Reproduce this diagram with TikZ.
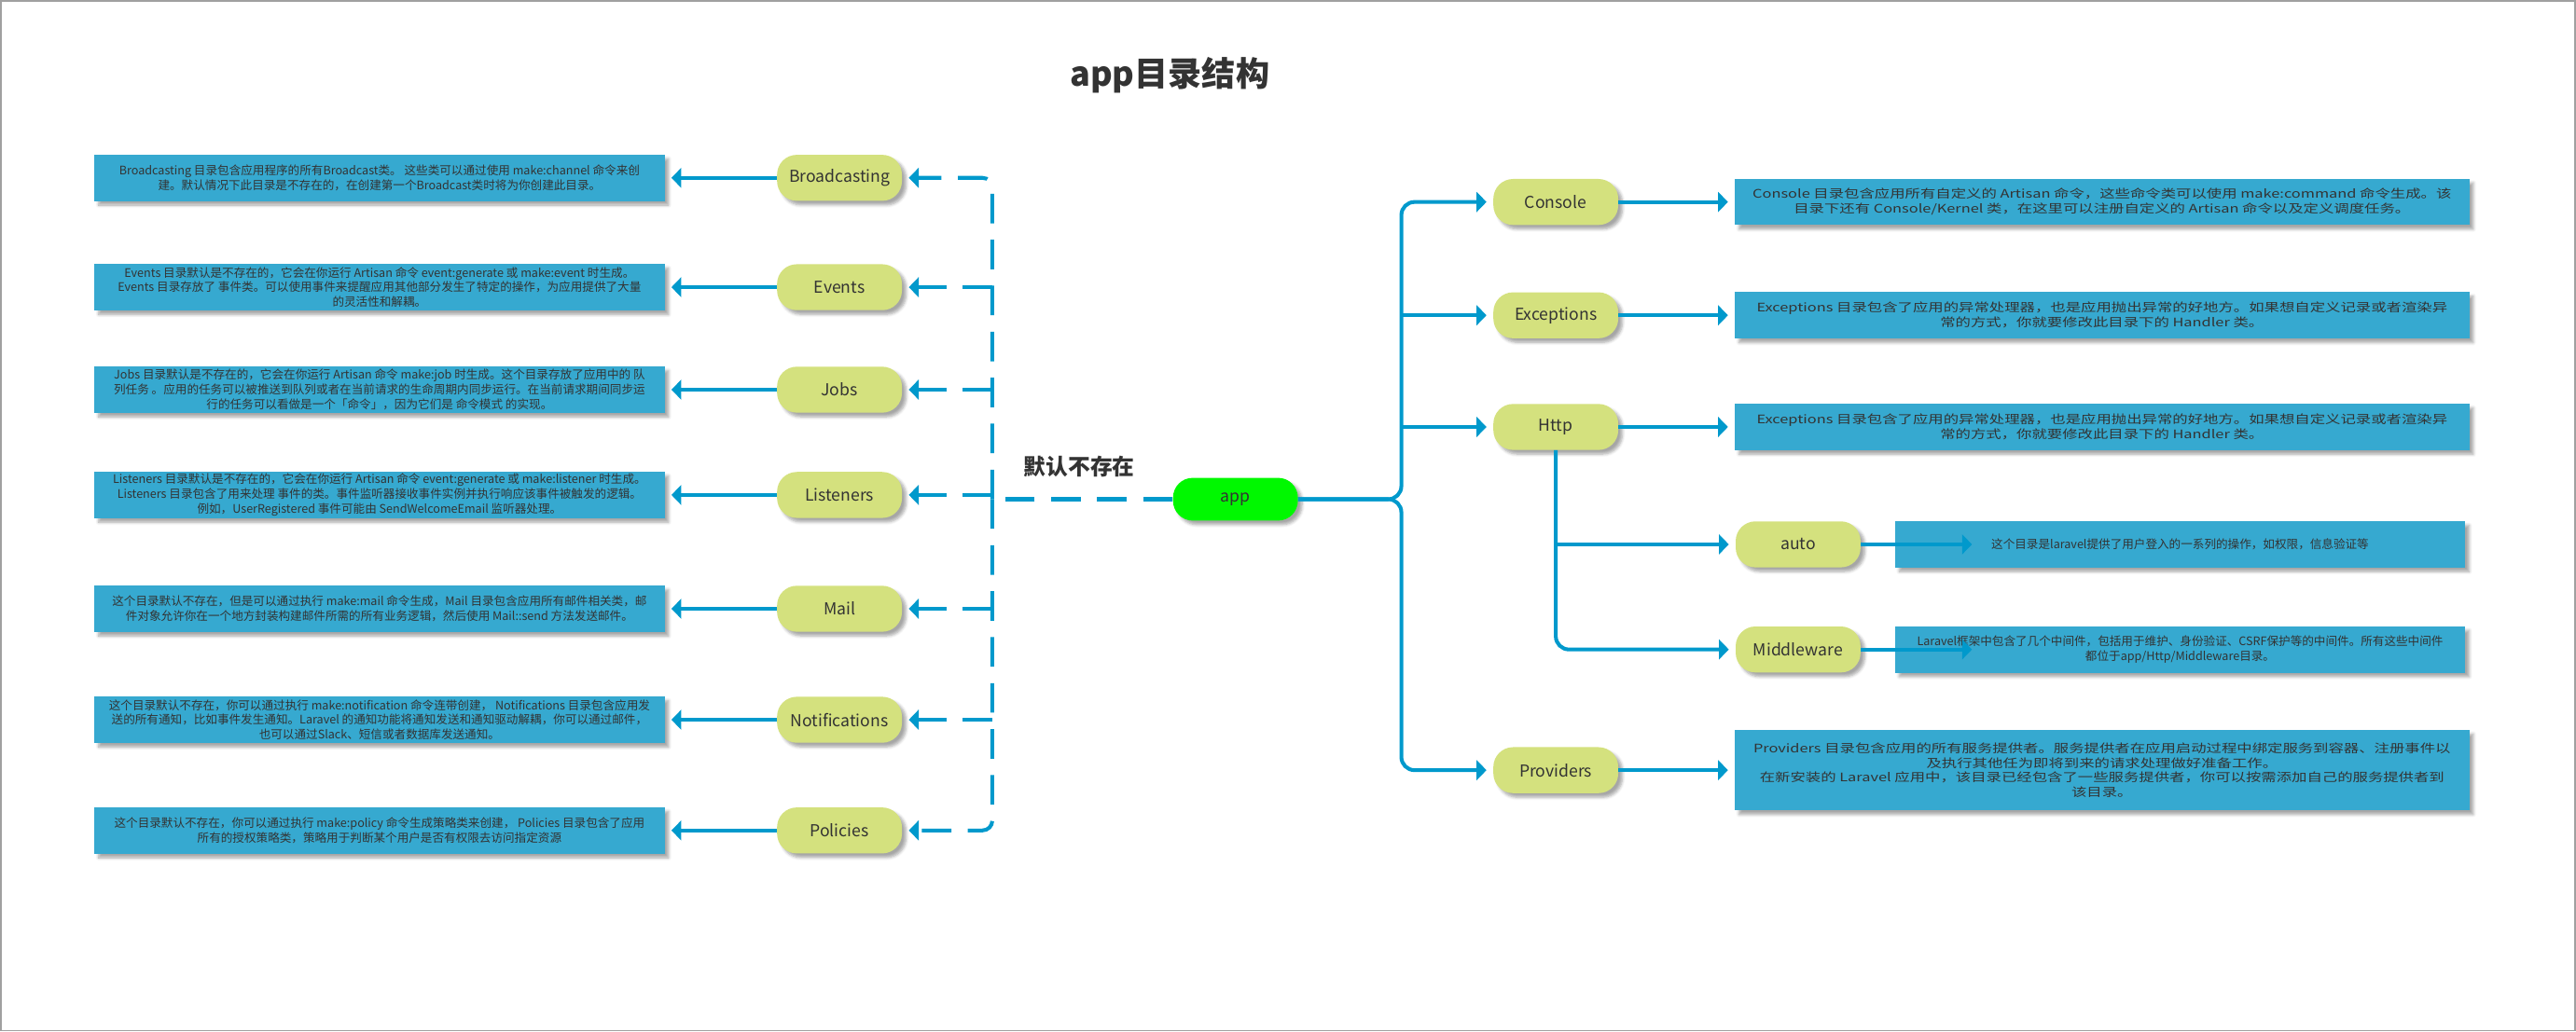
\documentclass[tikz,border=0pt]{standalone}
\usepackage{fontspec}
\setmainfont{Noto Sans CJK SC}
\newfontfamily\widefont{Noto Sans CJK SC}[FakeStretch=1.3]
\usetikzlibrary{arrows.meta,shadows.blur}

\definecolor{boxblue}{HTML}{36A9D0}
\definecolor{nodegreen}{HTML}{D4E17E}
\definecolor{linkblue}{HTML}{0099CC}
\definecolor{appgreen}{HTML}{00F800}
\definecolor{txt}{HTML}{333333}
\definecolor{frame}{HTML}{A0A0A0}

\tikzset{
  softshadow/.style={blur shadow={shadow xshift=2.5pt, shadow yshift=-2.5pt,
      shadow blur steps=5, shadow blur radius=1.8pt, shadow opacity=35}},
  dirnode/.style={fill=nodegreen, rounded corners=12pt, minimum width=76pt,
      minimum height=28pt, inner sep=1pt, text=txt,
      font=\fontsize{10}{12}\selectfont, softshadow},
  appnode/.style={dirnode, fill=appgreen, minimum height=26pt},
  infobox/.style={fill=boxblue, minimum width=347pt, minimum height=28.2pt,
      inner sep=1pt, align=center, text=txt,
      font=\fontsize{7.15}{9}\selectfont, softshadow},
  widebox/.style={infobox, minimum width=447pt,
      font=\widefont\fontsize{7.15}{9}\selectfont},
  link/.style={draw=linkblue, line width=2.3pt,
      -{Triangle[length=6pt,width=12pt]}, shorten >=4pt},
  dline/.style={draw=linkblue, line width=2.3pt, dash pattern=on 18pt off 10pt},
  dlink/.style={link, dash pattern=on 18pt off 10pt},
}

\begin{document}
\begin{tikzpicture}[x=1pt, y=-1pt]
\useasboundingbox (0,0) rectangle (1568,628);
\draw[frame, line width=0.8pt] (0.5,0.5) rectangle (1567.5,627.5);

% title and the label of the optional directories
\node[font=\bfseries\fontsize{20.5}{24}\selectfont, text=txt] (title) at (712,46) {app目录结构};
\node[font=\bfseries\fontsize{13.5}{16}\selectfont, text=txt] (optional) at (657,284) {默认不存在};

% root
\node[appnode] (app) at (752,304) {app};

% directories that do not exist by default
\node[dirnode] (bc)  at (511,108.3) {Broadcasting};
\node[dirnode] (ev)  at (511,174.9) {Events};
\node[dirnode] (job) at (511,237.3) {Jobs};
\node[dirnode] (lis) at (511,301.4) {Listeners};
\node[dirnode] (mail) at (511,370.7) {Mail};
\node[dirnode] (noti) at (511,438.3) {Notifications};
\node[dirnode] (pol) at (511,505.7) {Policies};

\node[infobox] (bcbox) at (231,108.3) {Broadcasting 目录包含应用程序的所有Broadcast类。 这些类可以通过使用 make:channel 命令来创\\建。默认情况下此目录是不存在的，在创建第一个Broadcast类时将为你创建此目录。};
\node[infobox] (evbox) at (231,174.9) {Events 目录默认是不存在的，它会在你运行 Artisan 命令 event:generate 或 make:event 时生成。\\Events 目录存放了 事件类。可以使用事件来提醒应用其他部分发生了特定的操作，为应用提供了大量\\的灵活性和解耦。};
\node[infobox] (jobbox) at (231,237.3) {Jobs 目录默认是不存在的，它会在你运行 Artisan 命令 make:job 时生成。这个目录存放了应用中的 队\\列任务 。应用的任务可以被推送到队列或者在当前请求的生命周期内同步运行。在当前请求期间同步运\\行的任务可以看做是一个「命令」，因为它们是 命令模式 的实现。};
\node[infobox] (lisbox) at (231,301.4) {Listeners 目录默认是不存在的，它会在你运行 Artisan 命令 event:generate 或 make:listener 时生成。\\Listeners 目录包含了用来处理 事件的类。事件监听器接收事件实例并执行响应该事件被触发的逻辑。\\例如，UserRegistered 事件可能由 SendWelcomeEmail 监听器处理。};
\node[infobox] (mailbox) at (231,370.7) {这个目录默认不存在，但是可以通过执行 make:mail 命令生成，Mail 目录包含应用所有邮件相关类，邮\\件对象允许你在一个地方封装构建邮件所需的所有业务逻辑，然后使用 Mail::send 方法发送邮件。};
\node[infobox] (notibox) at (231,438.3) {这个目录默认不存在，你可以通过执行 make:notification 命令连带创建， Notifications 目录包含应用发\\送的所有通知，比如事件发生通知。Laravel 的通知功能将通知发送和通知驱动解耦，你可以通过邮件，\\也可以通过Slack、短信或者数据库发送通知。};
\node[infobox] (polbox) at (231,505.7) {这个目录默认不存在，你可以通过执行 make:policy 命令生成策略类来创建， Policies 目录包含了应用\\所有的授权策略类，策略用于判断某个用户是否有权限去访问指定资源};

% directories present in a new application
\node[dirnode] (con)  at (947,123) {Console};
\node[dirnode] (exc)  at (947,192) {Exceptions};
\node[dirnode] (http) at (947,260) {Http};
\node[dirnode] (prov) at (947,469) {Providers};
\node[dirnode] (auto) at (1094.5,331.5) {auto};
\node[dirnode] (mw)   at (1094.5,395.5) {Middleware};

\node[widebox] (conbox) at (1279.5,123) {Console 目录包含应用所有自定义的 Artisan 命令，这些命令类可以使用 make:command 命令生成。该\\目录下还有 Console/Kernel 类，在这里可以注册自定义的 Artisan 命令以及定义调度任务。};
\node[widebox] (excbox) at (1279.5,192) {Exceptions 目录包含了应用的异常处理器，也是应用抛出异常的好地方。如果想自定义记录或者渲染异\\常的方式，你就要修改此目录下的 Handler 类。};
\node[widebox] (httpbox) at (1279.5,260) {Exceptions 目录包含了应用的异常处理器，也是应用抛出异常的好地方。如果想自定义记录或者渲染异\\常的方式，你就要修改此目录下的 Handler 类。};
\node[widebox, minimum height=49pt] (provbox) at (1279.5,469) {Providers 目录包含应用的所有服务提供者。服务提供者在应用启动过程中绑定服务到容器、注册事件以\\及执行其他任为即将到来的请求处理做好准备工作。\\在新安装的 Laravel 应用中，该目录已经包含了一些服务提供者，你可以按需添加自己的服务提供者到\\该目录。};
\node[infobox] (autobox) at (1327,331.5) {这个目录是laravel提供了用户登入的一系列的操作，如权限，信息验证等};
\node[infobox] (mwbox) at (1327,395.5) {Laravel框架中包含了几个中间件，包括用于维护、身份验证、CSRF保护等的中间件。所有这些中间件\\都位于app/Http/Middleware目录。};

% junctions
\coordinate (lj) at (604,304);
\coordinate (rj) at (853,304);

% dashed tree on the left
\draw[dline] (app.west) -- (lj);
\draw[dlink, rounded corners=6pt] (lj) |- (bc.east);
\draw[dlink, rounded corners=6pt] (lj) |- (pol.east);
\draw[dlink] (lj |- ev.east) -- (ev.east);
\draw[dlink] (lj |- job.east) -- (job.east);
\draw[dlink] (lj |- lis.east) -- (lis.east);
\draw[dlink] (lj |- mail.east) -- (mail.east);
\draw[dlink] (lj |- noti.east) -- (noti.east);

\foreach \n in {bc,ev,job,lis,mail,noti,pol}
  \draw[link] (\n.west) -- (\n box.east);

% solid tree on the right
\draw[link, rounded corners=8pt] (app.east) -- (rj) |- (con.west);
\draw[link, rounded corners=8pt] (app.east) -- (rj) |- (prov.west);
\draw[link] (rj |- exc.west) -- (exc.west);
\draw[link] (rj |- http.west) -- (http.west);
\draw[link, rounded corners=8pt] (http.south) |- (mw.west);
\draw[link] (http.south |- auto.west) -- (auto.west);

\foreach \n in {con,exc,http,prov}
  \draw[link] (\n.east) -- (\n box.west);
\draw[link, shorten >=0pt] (auto.east) -- ([xshift=47pt]autobox.west);
\draw[link, shorten >=0pt] (mw.east) -- ([xshift=47pt]mwbox.west);
\end{tikzpicture}
\end{document}
